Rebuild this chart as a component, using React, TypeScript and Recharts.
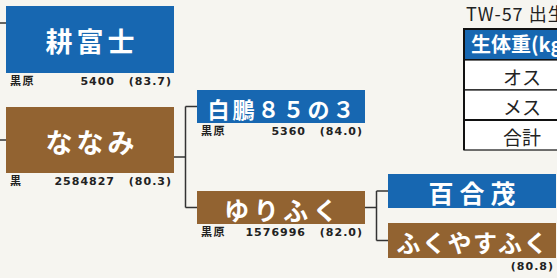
import React from 'react';
import { ScatterChart, Scatter, XAxis, YAxis, ReferenceLine } from 'recharts';

// ---------- DATA ----------
const names = ['耕富士', 'ななみ', '白鵬８５の３', 'ゆりふく', '百合茂', 'ふくやすふく'];
const sexes = ['M', 'F', 'M', 'F', 'M', 'F'];
const coats = ['黒原', '黒', '黒原', '黒原', '', ''];
const regNos = ['5400', '2584827', '5360', '1576996', '', ''];
const scores = ['(83.7)', '(80.3)', '(84.0)', '(82.0)', '', '(80.8)'];
const generations = [0, 0, 1, 1, 2, 2];
// parent index -> [sire index, dam index]
const parentsOf: Record<number, [number, number]> = { 1: [2, 3], 3: [4, 5] };

const tableTitle = 'TW-57 出生体重';
const tableHeader = '生体重(kg)';
const tableRows = ['オス', 'メス', '合計'];

// ---------- LAYOUT / STYLE ----------
const W = 557;
const H = 278;
const GEN_PX = 191;
const LEFT_PX = 6;
const BOX_W_PX = 168;
const X_MIN = -LEFT_PX / GEN_PX;
const X_MAX = (W - LEFT_PX) / GEN_PX;
const BOX_W = BOX_W_PX / GEN_PX;
const ELBOW = 11.5 / GEN_PX;
const rowCenter = [39.5, 140, 106.5, 207.5, 191, 240.5];
const boxH = [67, 66, 33, 33, 34, 35];
const stemY: Record<number, number> = { 1: 157, 3: 207.5 };
const offspringStubY = [23, 140];
const nameFont = [
  { size: 27, ls: 4 },
  { size: 27, ls: 4 },
  { size: 22, ls: 3 },
  { size: 25, ls: 4.5 },
  { size: 25, ls: 6 },
  { size: 24, ls: 1.5 },
];
const BLUE = '#1767b1';
const BROWN = '#926331';
const LINE = '#333';
const BG = '#f6f5f0';

const nodes = names.map((n, i) => ({
  x: generations[i],
  y: rowCenter[i],
  i,
}));

const NodeShape = (props: any) => {
  const { cx, cy, payload } = props;
  const i = payload.i;
  const h = boxH[i];
  const top = cy - h / 2;
  const f = nameFont[i];
  const labelY = top + h + 11.5;
  return (
    <g>
      <rect x={cx} y={top} width={BOX_W_PX} height={h} fill={sexes[i] === 'M' ? BLUE : BROWN} />
      <text
        x={cx + BOX_W_PX / 2 + f.ls / 2}
        y={cy + 1}
        textAnchor="middle"
        dominantBaseline="central"
        fill="#fff"
        fontWeight="bold"
        fontSize={f.size}
        letterSpacing={f.ls}
        fontFamily='"Noto Sans CJK JP", sans-serif'
      >
        {names[i]}
      </text>
      {coats[i] && (
        <text x={cx + 4} y={labelY} fontSize={11} fontWeight="bold" letterSpacing={1.5} fill="#222"
          fontFamily='"Noto Sans CJK JP", sans-serif'>
          {coats[i]}
        </text>
      )}
      {regNos[i] && (
        <text x={cx + BOX_W_PX - 60 + 1} y={labelY} textAnchor="end" fontSize={11} fontWeight="bold"
          letterSpacing={1} fill="#222" fontFamily='"DejaVu Sans", sans-serif'>
          {regNos[i]}
        </text>
      )}
      {scores[i] && (
        <text x={cx + BOX_W_PX - 3 + 1} y={labelY} textAnchor="end" fontSize={11} fontWeight="bold"
          letterSpacing={1} fill="#222" fontFamily='"DejaVu Sans", sans-serif'>
          {scores[i]}
        </text>
      )}
    </g>
  );
};

const segs: { a: { x: number; y: number }; b: { x: number; y: number } }[] = [];
Object.keys(parentsOf).forEach((k) => {
  const p = Number(k);
  const [s, d] = parentsOf[p];
  const px = generations[p] + BOX_W;
  const ex = px + ELBOW;
  segs.push({ a: { x: px, y: stemY[p] }, b: { x: ex, y: stemY[p] } });
  segs.push({ a: { x: ex, y: rowCenter[s] }, b: { x: ex, y: rowCenter[d] } });
  segs.push({ a: { x: ex, y: rowCenter[s] }, b: { x: generations[s], y: rowCenter[s] } });
  segs.push({ a: { x: ex, y: rowCenter[d] }, b: { x: generations[d], y: rowCenter[d] } });
});
offspringStubY.forEach((y) => {
  segs.push({ a: { x: X_MIN, y }, b: { x: 0, y } });
});

const TableOverlay = () => {
  const tx = 464;
  const tw = 120;
  return (
    <svg width={W} height={H} style={{ position: 'absolute', left: 0, top: 0, pointerEvents: 'none' }}>
      <text x={466} y={21} fontSize={18} fill="#222" letterSpacing={1}
        fontFamily='"Noto Sans CJK JP", sans-serif'>{tableTitle}</text>
      <rect x={tx} y={29} width={tw} height={31} fill={BLUE} stroke="#111" strokeWidth={2} />
      <text x={471} y={52} fontSize={20} fontWeight="bold" fill="#fff"
        fontFamily='"Noto Sans CJK JP", sans-serif'>{tableHeader}</text>
      {tableRows.map((r, k) => (
        <g key={r}>
          <rect x={tx} y={60 + k * 30} width={tw} height={30} fill="#fff" stroke="#111" strokeWidth={1.2} />
          <text x={522} y={75 + k * 30 + 1} textAnchor="middle" dominantBaseline="central" fontSize={19} fill="#222"
            fontFamily='"Noto Sans CJK JP", sans-serif'>{r}</text>
        </g>
      ))}
      <line x1={tx} y1={120} x2={tx + tw} y2={120} stroke="#111" strokeWidth={2.2} />
      <line x1={tx} y1={29} x2={tx} y2={150} stroke="#111" strokeWidth={2} />
    </svg>
  );
};

export default function App() {
  return (
    <div style={{ position: 'absolute', left: 0, top: 0, width: W, height: H, background: BG, overflow: 'hidden' }}>
      <ScatterChart width={W} height={H} margin={{ top: 0, right: 0, bottom: 0, left: 0 }}>
        <XAxis type="number" dataKey="x" domain={[X_MIN, X_MAX]} hide allowDataOverflow />
        <YAxis type="number" dataKey="y" domain={[0, H]} reversed hide allowDataOverflow />
        {segs.map((s, k) => (
          <ReferenceLine key={k} segment={[s.a, s.b]} stroke={LINE} strokeWidth={1.5} ifOverflow="visible" />
        ))}
        <Scatter data={nodes} shape={NodeShape} isAnimationActive={false} />
      </ScatterChart>
      <TableOverlay />
    </div>
  );
}
